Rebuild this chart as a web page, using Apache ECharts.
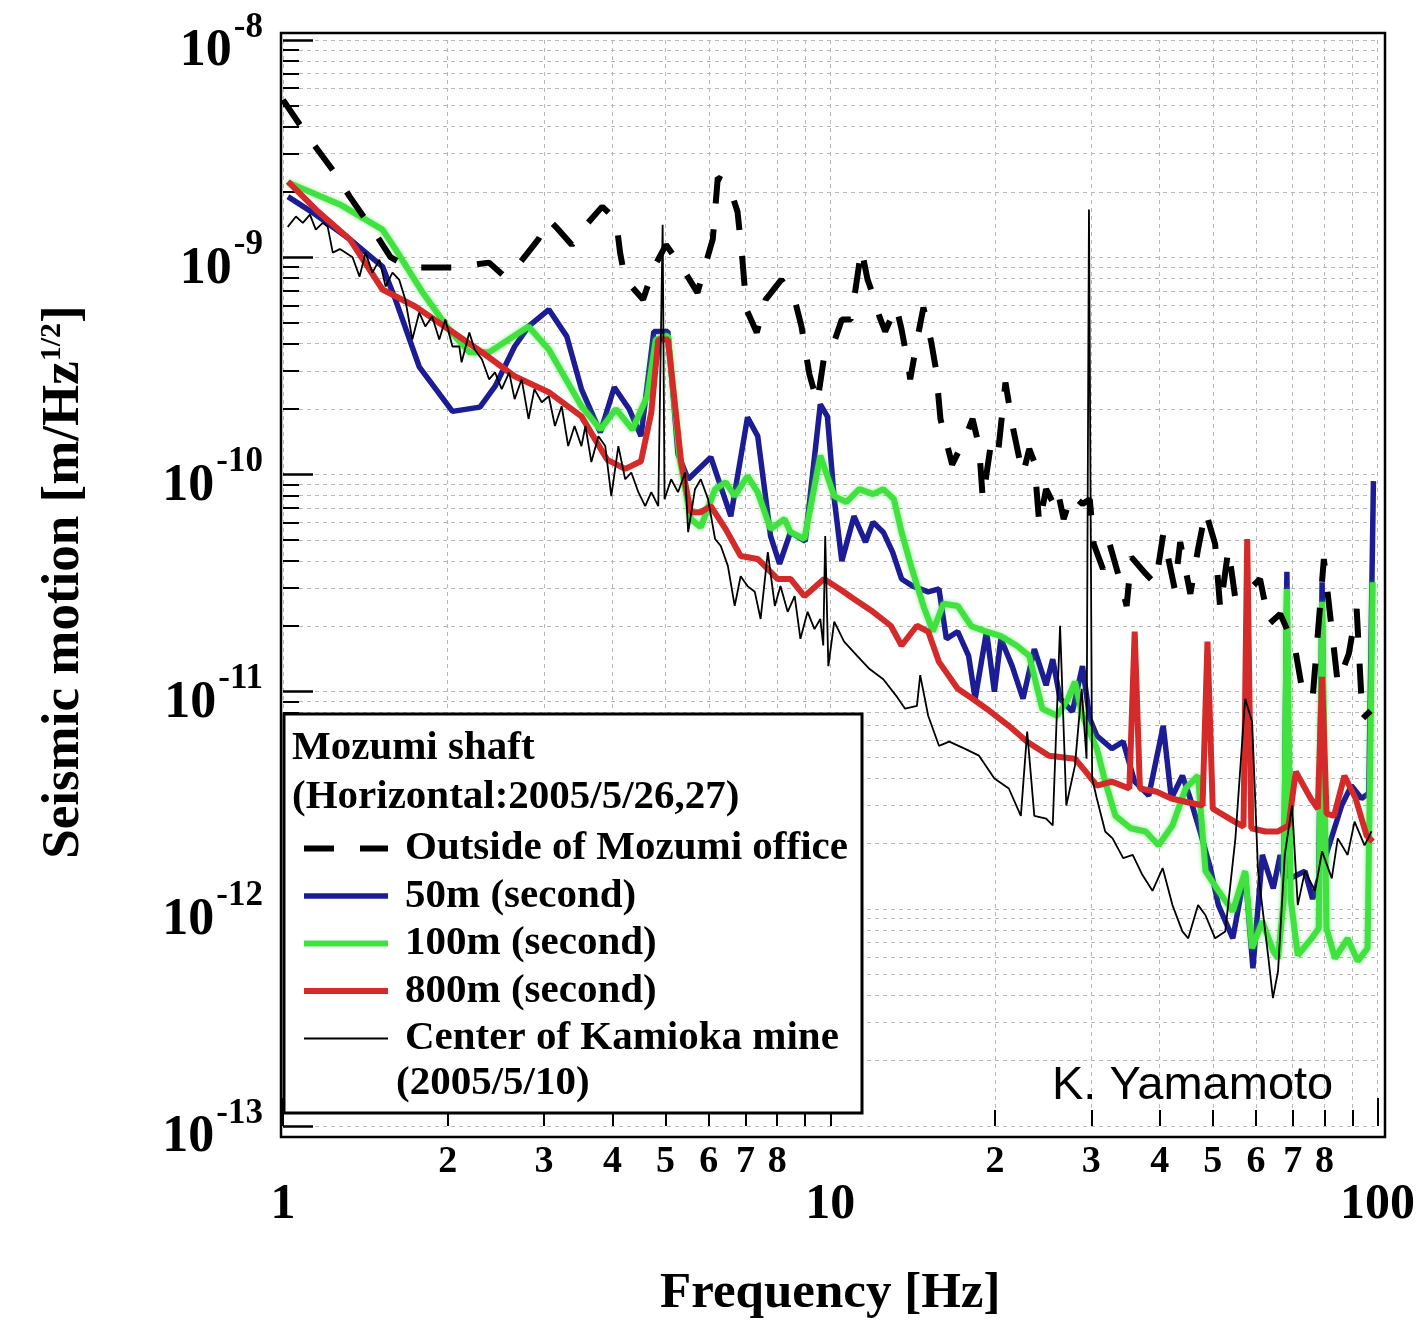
<!DOCTYPE html>
<html>
<head>
<meta charset="utf-8">
<title>Seismic motion - Mozumi shaft</title>
<script src="https://cdn.jsdelivr.net/npm/echarts@6.0.0/dist/echarts.min.js"></script>
<style>
  html, body { margin: 0; padding: 0; background: #fff; }
  #chart { width: 1418px; height: 1324px; }
</style>
</head>
<body>
<div id="chart"></div>
<script>
// Outside of Mozumi office (dashed)
const outsideFreq = [1.00,1.105,1.238,1.324,1.47,1.572,1.70,2.05,2.38,2.54,2.65,2.93,3.06,3.16,3.37,3.61,3.83,4.06,4.13,4.22,
  4.55,4.76,5.01,5.36,5.72,5.90,6.10,6.23,6.50,6.77,6.91,7.03,7.34,7.62,8.14,8.61,8.86,9.16,9.47,9.79,
  10.2,10.5,10.9,11.05,11.4,11.7,12.0,12.3,12.6,13.2,13.5,13.9,14.0,14.5,14.8,15.3,15.6,15.9,16.7,17.6,
  18.2,18.7,19.0,19.6,20.2,20.9,21.6,22.1,22.5,23.1,23.6,24.1,24.8,25.5,26.0,26.7,27.6,28.9,29.8,30.3,
  31.5,32.4,33.7,34.8,35.5,37.7,39.3,40.6,42.6,43.6,45.5,47.0,48.5,50.5,51.6,53.4,55.0,58.5,61.0,63.4,
  66.4,70.6,72.8,76.1,79.8,84.6,88.6,91.6,93.9,97.1];
const outsideAmp = [5.30e-9,3.66e-9,2.48e-9,1.90e-9,1.30e-9,1.0e-9,8.96e-10,8.96e-10,9.44e-10,8.14e-10,8.77e-10,1.21e-9,1.49e-9,1.37e-9,1.14e-9,1.44e-9,1.71e-9,1.49e-9,1.05e-9,7.89e-10,
  6.38e-10,8.96e-10,1.14e-9,8.96e-10,6.87e-10,9.05e-10,1.21e-9,2.32e-9,2.21e-9,1.62e-9,9.75e-10,5.74e-10,4.50e-10,6.38e-10,7.89e-10,6.38e-10,4.80e-10,2.89e-10,2.15e-10,3.76e-10,
  4.18e-10,5.17e-10,5.17e-10,6.38e-10,1.09e-9,7.89e-10,6.59e-10,5.33e-10,4.55e-10,5.93e-10,4.65e-10,3.13e-10,2.74e-10,4.50e-10,5.87e-10,4.05e-10,3.05e-10,1.80e-10,1.11e-10,1.45e-10,
  1.80e-10,1.35e-10,7.69e-11,1.31e-10,1.17e-10,2.65e-10,1.61e-10,1.22e-10,1.0e-10,1.31e-10,1.14e-10,5.90e-11,8.55e-11,7.45e-11,8.55e-11,6.23e-11,8.11e-11,7.30e-11,7.69e-11,4.78e-11,
  3.67e-11,4.78e-11,3.37e-11,2.48e-11,4.16e-11,3.49e-11,3.13e-11,5.31e-11,2.97e-11,4.88e-11,2.82e-11,4.53e-11,6.77e-11,4.78e-11,2.40e-11,4.53e-11,2.67e-11,2.97e-11,3.30e-11,2.05e-11,
  2.28e-11,1.61e-11,1.03e-11,9.27e-12,4.08e-11,1.09e-11,1.49e-11,2.40e-11,7.50e-12,8.16e-12];

// 50m (second)
const shaft50Freq = [1.021,1.148,1.324,1.52,1.605,1.774,2.04,2.29,2.44,2.65,2.81,3.06,3.30,3.51,3.80,4.03,4.29,4.51,4.76,5.05,
  5.27,5.50,6.05,6.58,7.06,7.37,7.78,8.08,8.46,9.0,9.59,9.88,10.17,10.5,11.05,11.6,11.97,12.5,13.0,13.5,
  14.15,15.1,15.8,16.3,17.1,17.9,18.4,19.3,19.95,20.5,21.5,22.5,23.6,24.8,25.5,26.3,27.7,28.9,29.8,30.7,
  32.7,34.3,36.0,38.2,40.6,42.0,44.0,45.3,47.4,49.5,51.2,54.4,57.3,59.2,61.6,64.5,66.4,67.4,68.3,69.1,
  73.7,76.1,78.1,79.2,80.2,86.0,89.6,93.5,96.4,98.3];
const shaft50Amp = [1.90e-9,1.57e-9,1.21e-9,9.05e-10,6.38e-10,3.13e-10,1.95e-10,2.04e-10,2.54e-10,3.88e-10,4.80e-10,5.74e-10,4.32e-10,2.47e-10,1.56e-10,2.52e-10,2.00e-10,1.50e-10,4.55e-10,4.55e-10,
  1.24e-10,9.50e-11,1.20e-10,6.42e-11,1.83e-10,1.50e-10,5.20e-11,3.87e-11,5.42e-11,4.93e-11,2.10e-10,1.85e-10,7.69e-11,3.99e-11,6.42e-11,4.88e-11,6.03e-11,5.42e-11,4.39e-11,3.30e-11,
  3.06e-11,2.88e-11,2.97e-11,1.75e-11,1.89e-11,1.46e-11,9.27e-12,1.89e-11,1.0e-11,1.75e-11,1.31e-11,9.27e-12,1.57e-11,1.07e-11,1.41e-11,9.27e-12,8.08e-12,1.31e-11,7.50e-12,6.26e-12,
  5.46e-12,5.88e-12,3.85e-12,3.32e-12,6.96e-12,3.22e-12,4.10e-12,3.32e-12,2.27e-12,1.54e-12,1.04e-12,7.31e-13,1.49e-12,5.32e-13,1.77e-12,1.24e-12,1.77e-12,1.38e-12,3.56e-11,1.38e-12,
  1.49e-12,1.11e-12,1.38e-12,3.19e-11,1.71e-12,2.99e-12,3.69e-12,3.22e-12,3.41e-12,9.31e-11];

// 100m (second)
const shaft100Freq = [1.021,1.27,1.52,1.605,1.80,2.01,2.19,2.38,2.81,3.06,3.51,3.80,4.06,4.35,4.63,4.80,5.05,5.31,5.56,5.80,
  6.16,6.44,6.69,7.06,7.37,7.78,8.25,8.46,8.97,9.59,10.17,10.7,11.3,11.97,12.5,13.07,13.5,14.1,14.8,15.4,
  16.1,17.1,18.1,19.3,20.5,21.9,23.1,24.4,26.0,27.2,28.0,28.9,30.7,31.8,33.2,35.4,37.7,39.8,42.2,44.6,
  47.0,48.5,51.2,54.4,57.3,59.0,61.6,64.5,65.8,67.4,68.3,69.4,71.5,75.8,78.1,79.2,80.7,83.6,88.2,92.0,
  95.9,98.0];
const shaft100Amp = [2.21e-9,1.75e-9,1.34e-9,1.09e-9,6.87e-10,4.65e-10,3.65e-10,3.65e-10,4.80e-10,3.76e-10,2.06e-10,1.61e-10,2.00e-10,1.61e-10,2.29e-10,4.18e-10,4.36e-10,1.17e-10,6.23e-11,5.72e-11,
  8.55e-11,9.21e-11,7.94e-11,9.81e-11,8.28e-11,5.60e-11,6.23e-11,5.42e-11,5.04e-11,1.22e-10,7.94e-11,7.45e-11,8.55e-11,8.11e-11,8.55e-11,7.69e-11,5.42e-11,3.67e-11,2.48e-11,1.89e-11,
  2.54e-11,2.48e-11,2.00e-11,1.89e-11,1.80e-11,1.63e-11,1.46e-11,8.34e-12,7.74e-12,9.27e-12,1.11e-11,7.74e-12,5.46e-12,3.85e-12,2.68e-12,2.35e-12,2.27e-12,1.96e-12,2.42e-12,3.58e-12,
  4.10e-12,1.49e-12,1.21e-12,9.73e-13,1.49e-12,6.58e-13,8.75e-13,6.37e-13,5.91e-13,1.11e-12,2.97e-11,1.11e-12,6.11e-13,7.31e-13,8.13e-13,2.59e-11,8.13e-13,5.91e-13,7.31e-13,5.74e-13,
  6.58e-13,3.19e-11];

// 800m (second)
const shaft800Freq = [1.021,1.148,1.324,1.52,1.745,2.01,2.31,2.65,3.06,3.51,3.91,4.22,4.51,4.71,4.85,5.05,5.34,5.56,5.80,6.05,
  6.44,6.86,7.37,8.01,8.46,8.97,9.74,10.4,11.05,11.97,12.9,13.5,14.4,15.1,15.8,17.1,18.2,19.3,21.2,22.9,
  25.1,28.0,29.3,30.7,32.7,35.2,36.0,36.8,39.5,42.0,44.6,47.9,48.9,50.0,54.8,56.9,57.8,58.8,62.4,65.8,
  68.8,70.9,75.5,77.8,79.2,80.7,83.3,87.0,91.2,95.5,98.0];
const shaft800Amp = [2.23e-9,1.66e-9,1.21e-9,7.10e-10,5.93e-10,4.65e-10,3.65e-10,2.83e-10,2.39e-10,1.85e-10,1.17e-10,1.06e-10,1.15e-10,1.93e-10,4.18e-10,4.18e-10,1.14e-10,6.70e-11,6.70e-11,7.14e-11,
  5.60e-11,4.21e-11,4.08e-11,3.30e-11,3.30e-11,2.75e-11,3.30e-11,2.97e-11,2.67e-11,2.33e-11,2.01e-11,1.63e-11,2.01e-11,1.89e-11,1.37e-11,1.03e-11,9.27e-12,8.34e-12,6.96e-12,5.88e-12,
  5.07e-12,4.91e-12,4.28e-12,3.69e-12,3.85e-12,3.58e-12,1.89e-11,3.58e-12,3.46e-12,3.22e-12,3.11e-12,2.99e-12,1.70e-11,2.89e-12,2.52e-12,2.39e-12,5.04e-11,2.35e-12,2.27e-12,2.27e-12,
  2.42e-12,4.28e-12,3.22e-12,2.89e-12,1.17e-11,2.74e-12,2.68e-12,4.10e-12,3.22e-12,2.18e-12,2.04e-12];

// Center of Kamioka mine (2005/5/10)
const kamiokaFreq = [1.02,1.056,1.087,1.12,1.148,1.182,1.207,1.233,1.27,1.30,1.34,1.38,1.415,1.457,1.50,1.54,1.585,1.63,1.673,1.723,
  1.774,1.82,1.873,1.93,1.98,2.04,2.10,2.12,2.19,2.24,2.31,2.38,2.44,2.51,2.59,2.65,2.73,2.81,2.88,2.97,
  3.06,3.14,3.23,3.32,3.41,3.51,3.57,3.66,3.77,3.88,3.98,4.10,4.22,4.33,4.46,4.59,4.71,4.85,4.89,4.94,
  4.98,5.12,5.27,5.43,5.50,5.66,5.80,5.98,6.16,6.31,6.50,6.69,6.86,7.06,7.28,7.46,7.69,7.92,8.11,8.36,
  8.61,8.82,9.09,9.36,9.59,9.71,9.79,9.92,10.17,10.6,11.2,11.8,12.5,13.2,13.7,14.4,14.6,15.1,15.8,16.5,
  17.6,18.7,19.95,21.2,22.3,22.9,23.6,24.8,25.5,26.3,27.0,28.0,28.8,29.4,29.7,30.1,30.7,31.8,32.8,34.3,
  35.7,37.2,38.8,40.5,42.2,44.0,45.1,47.0,48.5,50.5,52.7,55.0,57.3,59.0,60.5,63.1,64.4,65.8,67.7,69.8,
  71.5,73.7,76.9,79.2,82.5,84.6,88.2,90.8,94.7,97.5];
const kamiokaAmp = [1.38e-9,1.54e-9,1.44e-9,1.57e-9,1.34e-9,1.44e-9,1.38e-9,1.05e-9,1.09e-9,1.05e-9,1.0e-9,8.14e-10,1.05e-9,8.49e-10,9.75e-10,7.32e-10,8.49e-10,7.89e-10,6.38e-10,4.18e-10,
  5.56e-10,4.80e-10,5.33e-10,4.18e-10,5.17e-10,3.88e-10,3.88e-10,3.28e-10,4.50e-10,3.76e-10,3.38e-10,2.74e-10,2.95e-10,2.47e-10,2.95e-10,2.22e-10,2.74e-10,1.80e-10,2.47e-10,2.15e-10,
  2.29e-10,1.67e-10,2.06e-10,1.35e-10,1.67e-10,1.35e-10,1.67e-10,1.14e-10,1.50e-10,1.35e-10,7.94e-11,1.35e-10,9.50e-11,1.02e-10,8.28e-11,7.14e-11,8.28e-11,7.14e-11,7.14e-11,1.41e-9,
  7.69e-11,9.50e-11,8.28e-11,1.02e-10,5.42e-11,8.55e-11,9.50e-11,7.69e-11,5.04e-11,4.68e-11,3.79e-11,2.48e-11,3.40e-11,3.06e-11,2.88e-11,2.16e-11,4.39e-11,2.48e-11,3.06e-11,2.33e-11,
  2.75e-11,1.75e-11,2.33e-11,1.94e-11,2.16e-11,1.63e-11,5.20e-11,1.31e-11,2.10e-11,1.70e-11,1.46e-11,1.27e-11,1.14e-11,9.56e-12,8.34e-12,8.60e-12,1.19e-11,7.74e-12,5.63e-12,5.88e-12,
  5.46e-12,5.07e-12,3.98e-12,3.58e-12,2.68e-12,6.54e-12,2.68e-12,2.60e-12,2.42e-12,2.01e-11,2.99e-12,4.56e-12,1.03e-11,4.91e-12,1.66e-9,3.98e-12,3.22e-12,2.27e-12,2.11e-12,1.71e-12,
  1.77e-12,1.43e-12,1.21e-12,1.54e-12,1.04e-12,7.87e-13,7.31e-13,1.04e-12,9.33e-13,7.31e-13,7.87e-13,2.11e-12,9.27e-12,7.27e-12,1.49e-12,6.11e-13,3.88e-13,5.16e-13,1.77e-12,2.99e-12,
  1.04e-12,1.49e-12,1.21e-12,1.84e-12,1.38e-12,2.11e-12,1.77e-12,2.52e-12,1.96e-12,2.27e-12];

const seriesNames = ['Outside of Mozumi office', '50m (second)', '100m (second)', '800m (second)', 'Center of Kamioka mine'];

// tick labels
const minorMult = [2, 3, 4, 5, 6, 7, 8, 9];
const minorLabelMult = [2, 3, 4, 5, 6, 7, 8];
const xDecades = [1, 10];
const yExponents = [-13, -12, -11, -10, -9];

const serif = 'Liberation Serif';
const gridDash = { color: '#b8b8b8', width: 1, type: [4, 4] };

function zip(f, a) {
  return f.map((x, i) => [x, a[i]]);
}

const xMinorTicks = [], xMinorLabels = [];
xDecades.forEach(d => {
  minorMult.forEach(m => xMinorTicks.push(Math.log10(d * m)));
  minorLabelMult.forEach(m => xMinorLabels.push(Math.log10(d * m)));
});
const yMinorTicks = [];
yExponents.forEach(e => minorMult.forEach(m => yMinorTicks.push(e + Math.log10(m))));

const chart = echarts.init(document.getElementById('chart'));

const option = {
  backgroundColor: '#fff',
  animation: false,
  grid: { left: 283, right: 35, top: 40, bottom: 195, show: false },
  legend: {
    data: seriesNames,
    orient: 'vertical',
    left: 296,
    top: 823,
    itemWidth: 84,
    itemHeight: 20,
    itemGap: 6.5,
    selectedMode: false,
    z: 20,
    lineStyle: { width: 'inherit' },
    itemStyle: { color: 'rgba(0,0,0,0)', borderWidth: 0, opacity: 0 },
    textStyle: {
      fontFamily: serif, fontSize: 41, fontWeight: 'bold', color: '#000',
      lineHeight: 40, padding: [0, 0, 0, 12]
    }
  },
  xAxis: [
    {
      type: 'log', logBase: 10, min: 1, max: 100, position: 'bottom',
      axisLine: { show: false, onZero: false },
      axisTick: { show: true, inside: true, length: 28, lineStyle: { color: '#000', width: 2 } },
      axisLabel: {
        margin: 54, color: '#000', fontFamily: serif, fontSize: 50, fontWeight: 'bold',
        formatter: v => String(Math.round(v))
      },
      splitLine: { show: true, lineStyle: gridDash },
      name: 'Frequency [Hz]',
      nameLocation: 'middle',
      nameGap: 142,
      nameTextStyle: { fontFamily: serif, fontSize: 51, fontWeight: 'bold', color: '#000', verticalAlign: 'top' }
    },
    {
      type: 'value', min: 0, max: 2, position: 'bottom',
      axisLine: { show: false, onZero: false },
      axisTick: { show: true, inside: true, length: 16, customValues: xMinorTicks, lineStyle: { color: '#000', width: 2 } },
      axisLabel: {
        customValues: xMinorLabels, margin: 17, color: '#000',
        fontFamily: serif, fontSize: 38, fontWeight: 'bold',
        formatter: v => String(Math.round(Math.pow(10, v - Math.floor(v + 1e-9))))
      },
      splitLine: { show: true, lineStyle: gridDash }
    }
  ],
  yAxis: [
    {
      type: 'log', logBase: 10, min: 1e-13, max: 1e-8, position: 'left',
      axisLine: { show: false, onZero: false },
      axisTick: { show: true, inside: true, length: 30, lineStyle: { color: '#000', width: 2.5 } },
      axisLabel: {
        margin: 20,
        formatter: v => '{b|10}{s|' + Math.round(Math.log10(v)) + '}',
        rich: {
          b: { fontFamily: serif, fontSize: 52, fontWeight: 'bold', color: '#000', verticalAlign: 'bottom', padding: [24, 0, 0, 0] },
          s: { fontFamily: serif, fontSize: 35, fontWeight: 'bold', color: '#000', verticalAlign: 'top', padding: [8, 0, 0, 2] }
        }
      },
      splitLine: { show: true, lineStyle: gridDash }
    },
    {
      type: 'value', min: -13, max: -8, position: 'left',
      axisLine: { show: false, onZero: false },
      axisTick: { show: true, inside: true, length: 16, customValues: yMinorTicks, lineStyle: { color: '#000', width: 2 } },
      axisLabel: { show: false },
      splitLine: { show: true, lineStyle: gridDash }
    }
  ],
  graphic: [
    {
      type: 'rect', z: 15,
      shape: { x: 281, y: 33, width: 1104, height: 1104 },
      style: { fill: 'none', stroke: '#000', lineWidth: 2.5 }
    },
    {
      type: 'rect', z: 16,
      shape: { x: 284, y: 714, width: 578, height: 399 },
      style: { fill: '#fff', stroke: '#000', lineWidth: 3 }
    },
    {
      type: 'text', z: 21, x: 292, y: 748,
      style: { text: 'Mozumi shaft', fontFamily: serif, fontSize: 41, fontWeight: 'bold', fill: '#000', verticalAlign: 'middle' }
    },
    {
      type: 'text', z: 21, x: 292, y: 797,
      style: { text: '(Horizontal:2005/5/26,27)', fontFamily: serif, fontSize: 41, fontWeight: 'bold', fill: '#000', verticalAlign: 'middle' }
    },
    {
      type: 'text', z: 21, x: 396, y: 1083,
      style: { text: '(2005/5/10)', fontFamily: serif, fontSize: 41, fontWeight: 'bold', fill: '#000', verticalAlign: 'middle' }
    },
    {
      type: 'text', z: 21, x: 1052, y: 1086,
      style: { text: 'K. Yamamoto', fontFamily: 'Liberation Sans', fontSize: 47, fill: '#000', verticalAlign: 'middle' }
    },
    {
      type: 'text', z: 21, x: 64, y: 582, rotation: Math.PI / 2,
      style: {
        text: '{t|Seismic motion [m/Hz}{s|1/2}{t|]}',
        align: 'center', verticalAlign: 'middle',
        rich: {
          t: { fontFamily: serif, fontSize: 53, fontWeight: 'bold', fill: '#000', verticalAlign: 'bottom' },
          s: { fontFamily: serif, fontSize: 30, fontWeight: 'bold', fill: '#000', verticalAlign: 'top' }
        }
      }
    }
  ],
  series: [
    {
      name: seriesNames[1], type: 'line', xAxisIndex: 0, yAxisIndex: 0,
      showSymbol: false, symbol: 'none',
      lineStyle: { color: '#1c1c94', width: 5.5 },
      itemStyle: { color: '#1c1c94' },
      data: zip(shaft50Freq, shaft50Amp)
    },
    {
      name: seriesNames[2], type: 'line', xAxisIndex: 0, yAxisIndex: 0,
      showSymbol: false, symbol: 'none',
      lineStyle: { color: '#3fe23f', width: 6, shadowColor: 'rgba(60,220,60,0.6)', shadowBlur: 4 },
      itemStyle: { color: '#3fe23f' },
      data: zip(shaft100Freq, shaft100Amp)
    },
    {
      name: seriesNames[3], type: 'line', xAxisIndex: 0, yAxisIndex: 0,
      showSymbol: false, symbol: 'none',
      lineStyle: { color: '#d42a2a', width: 6 },
      itemStyle: { color: '#d42a2a' },
      data: zip(shaft800Freq, shaft800Amp)
    },
    {
      name: seriesNames[4], type: 'line', xAxisIndex: 0, yAxisIndex: 0,
      showSymbol: false, symbol: 'none',
      lineStyle: { color: '#000', width: 1.8 },
      itemStyle: { color: '#000' },
      data: zip(kamiokaFreq, kamiokaAmp)
    },
    {
      name: seriesNames[0], type: 'line', xAxisIndex: 0, yAxisIndex: 0,
      showSymbol: false, symbol: 'none',
      lineStyle: { color: '#000', width: 6, type: [30, 26], cap: 'butt' },
      itemStyle: { color: '#000' },
      data: zip(outsideFreq, outsideAmp)
    }
  ]
};

chart.setOption(option);
</script>
</body>
</html>
